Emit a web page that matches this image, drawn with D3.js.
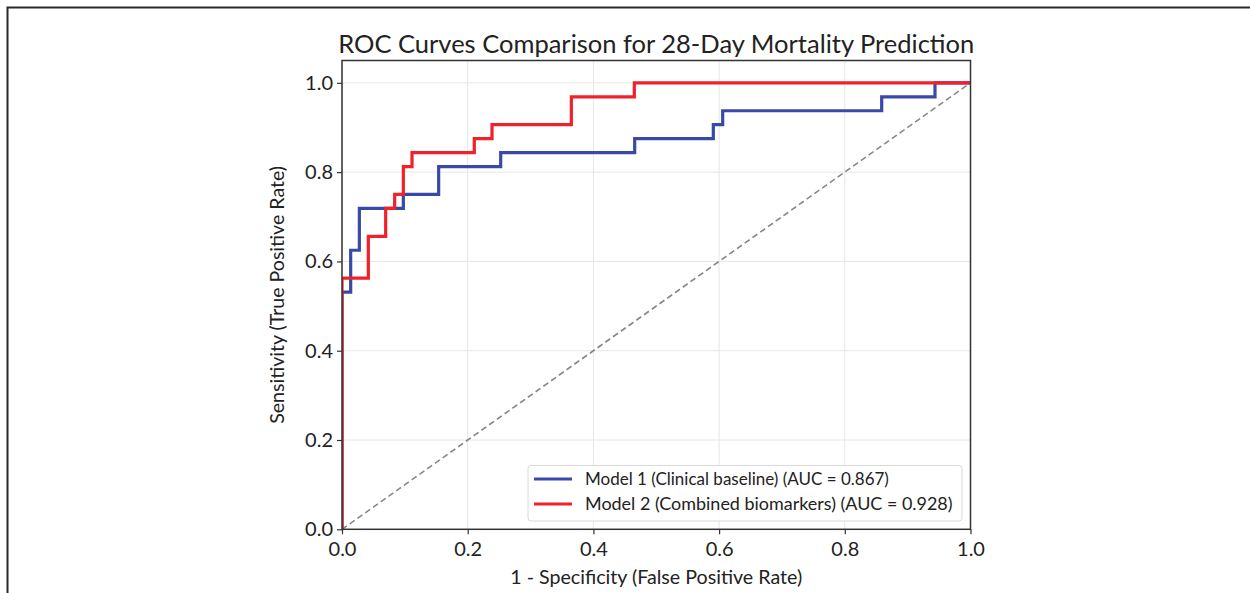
<!DOCTYPE html>
<html>
<head>
<meta charset="utf-8" />
<title>ROC Curves</title>
<script src="https://d3js.org/d3.v7.min.js"></script>
<style>
  body { margin: 0; background: #fff; }
  text { font-family: Lato, "Open Sans", sans-serif; fill: #222; }
</style>
</head>
<body>
<svg id="chart" width="1250" height="593"></svg>
<script>
// ROC points (fpr, tpr after the jump)
var fpr1 = [0, 0, 0.0138, 0.0276, 0.0976, 0.1538, 0.2525, 0.4657, 0.5908, 0.6057, 0.8587, 0.9435, 1.0];
var tpr1 = [0, 0.53125, 0.625, 0.71875, 0.75, 0.8125, 0.84375, 0.875, 0.90625, 0.9375, 0.96875, 1.0, 1.0];

var fpr2 = [0, 0, 0.0419, 0.0695, 0.0838, 0.0976, 0.1114, 0.2105, 0.2387, 0.3649, 0.4651, 1.0];
var tpr2 = [0, 0.5625, 0.65625, 0.71875, 0.75, 0.8125, 0.84375, 0.875, 0.90625, 0.96875, 1.0, 1.0];

var seriesNames = ["Model 1 (Clinical baseline) (AUC = 0.867)", "Model 2 (Combined biomarkers) (AUC = 0.928)"];
var tickValues = [0, 0.2, 0.4, 0.6, 0.8, 1.0];

var svg = d3.select("#chart");

// outer frame (only top and left edges show)
svg.append("path")
    .attr("d", "M7.5,593V7.5H1250")
    .attr("fill", "none")
    .attr("stroke", "#2a2a2a")
    .attr("stroke-width", 2);

var pLeft = 342, pRight = 970.5, pTop = 60.5, pBottom = 529.3;
var x = d3.scaleLinear().domain([0, 1]).range([pLeft, pRight]);
var y = d3.scaleLinear().domain([0, 1.05]).range([pBottom, pTop]);

// fit text to a measured width
function fit(sel, w) {
    var n = sel.node();
    var fs = parseFloat(sel.attr("font-size"));
    var len = n.getComputedTextLength();
    sel.attr("font-size", (fs * w / len).toFixed(2));
}

// grid
svg.append("g").selectAll("line").data(tickValues).enter().append("line")
    .attr("x1", d => x(d)).attr("x2", d => x(d))
    .attr("y1", pTop).attr("y2", pBottom)
    .attr("stroke", "#e6e6e6").attr("stroke-width", 1);
svg.append("g").selectAll("line").data(tickValues).enter().append("line")
    .attr("x1", pLeft).attr("x2", pRight)
    .attr("y1", d => y(d)).attr("y2", d => y(d))
    .attr("stroke", "#e6e6e6").attr("stroke-width", 1);

// axes
var xAxis = svg.append("g")
    .attr("transform", "translate(0," + pBottom + ")")
    .call(d3.axisBottom(x).tickValues(tickValues).tickFormat(d3.format(".1f")).tickSize(5).tickPadding(4));
var yAxis = svg.append("g")
    .attr("transform", "translate(" + pLeft + ",0)")
    .call(d3.axisLeft(y).tickValues(tickValues).tickFormat(d3.format(".1f")).tickSize(5).tickPadding(4));

[xAxis, yAxis].forEach(function (a) {
    a.select(".domain").remove();
    a.selectAll(".tick line").attr("stroke", "#333").attr("stroke-width", 1.2);
    a.selectAll(".tick text").attr("font-size", 20).attr("font-family", "Lato, sans-serif").attr("fill", "#222");
});
xAxis.selectAll(".tick text").attr("dy", "0.9em");

// clip
svg.append("clipPath").attr("id", "clip")
    .append("rect").attr("x", pLeft).attr("y", pTop).attr("width", pRight - pLeft).attr("height", pBottom - pTop);

var plot = svg.append("g").attr("clip-path", "url(#clip)");

// chance line
plot.append("line")
    .attr("x1", x(0)).attr("y1", y(0)).attr("x2", x(1)).attr("y2", y(1))
    .attr("stroke", "#888").attr("stroke-width", 1.6).attr("stroke-dasharray", "6,3.5");

var line = d3.line().x(d => x(d[0])).y(d => y(d[1])).curve(d3.curveStepAfter);

var colors = ["#3949a8", "#f0212b"];
var data1 = fpr1.map((f, i) => [f, tpr1[i]]);
var data2 = fpr2.map((f, i) => [f, tpr2[i]]);

plot.append("path").datum(data1).attr("d", line)
    .attr("fill", "none").attr("stroke", colors[0]).attr("stroke-width", 3.2);
plot.append("path").datum(data2).attr("d", line)
    .attr("fill", "none").attr("stroke", colors[1]).attr("stroke-width", 3.2);

// frame
svg.append("rect")
    .attr("x", pLeft).attr("y", pTop).attr("width", pRight - pLeft).attr("height", pBottom - pTop)
    .attr("fill", "none").attr("stroke", "#333").attr("stroke-width", 1.5);

// legend
var lg = svg.append("g");
lg.append("rect")
    .attr("x", 528).attr("y", 465.5).attr("width", 434).attr("height", 55.5).attr("rx", 3)
    .attr("fill", "#fff").attr("fill-opacity", 0.85)
    .attr("stroke", "#d8d8d8").attr("stroke-width", 1);
seriesNames.forEach(function (name, i) {
    var ly = 479 + i * 25;
    lg.append("line").attr("x1", 534).attr("x2", 572).attr("y1", ly).attr("y2", ly)
        .attr("stroke", colors[i]).attr("stroke-width", 3.2);
    var t = lg.append("text").attr("x", 585).attr("y", ly + 6).attr("font-size", 17).text(name);
    if (i === 1) fit(t, 368);
});

// titles
var title = svg.append("text").attr("x", (pLeft + pRight) / 2).attr("y", 53)
    .attr("text-anchor", "middle").attr("font-size", 25)
    .text("ROC Curves Comparison for 28-Day Mortality Prediction");
fit(title, 636);

var xl = svg.append("text").attr("x", (pLeft + pRight) / 2).attr("y", 584)
    .attr("text-anchor", "middle").attr("font-size", 18)
    .text("1 - Specificity (False Positive Rate)");
fit(xl, 292);

var yl = svg.append("text")
    .attr("transform", "translate(284," + (pTop + pBottom) / 2 + ") rotate(-90)")
    .attr("text-anchor", "middle").attr("font-size", 18)
    .text("Sensitivity (True Positive Rate)");
fit(yl, 258);
</script>
</body>
</html>
